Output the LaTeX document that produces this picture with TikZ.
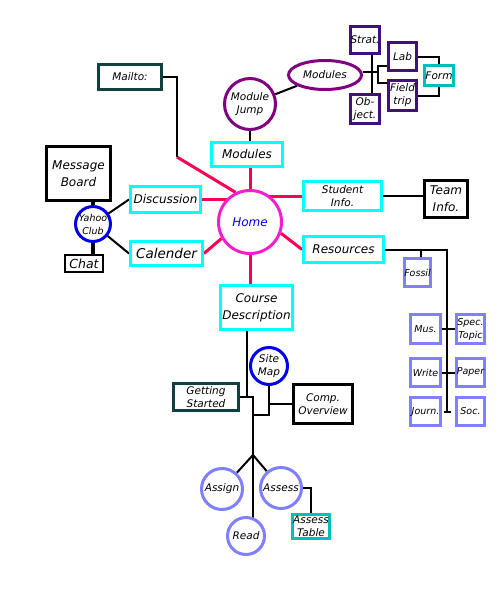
\documentclass[tikz,border=0pt]{standalone}
\usepackage{fontspec}
\setmainfont{DejaVu Sans}
\usetikzlibrary{shapes.geometric,backgrounds}
\definecolor{cy}{RGB}{0,255,255}
\definecolor{pk}{RGB}{245,30,205}
\definecolor{rd}{RGB}{250,0,85}
\definecolor{pu}{RGB}{128,0,128}
\definecolor{ind}{RGB}{64,16,128}
\definecolor{lb}{RGB}{128,128,255}
\definecolor{tl}{RGB}{0,190,190}
\definecolor{dt}{RGB}{16,64,64}
\definecolor{bl}{RGB}{0,0,235}
\tikzset{
  box/.style={draw=#1, rectangle, line width=3pt, fill=white, inner sep=0pt, align=center, font=\itshape\fontsize{10.5}{13}\selectfont},
  circ/.style={draw=#1, circle, line width=3pt, fill=white, inner sep=0pt, align=center, font=\itshape\fontsize{10.5}{13}\selectfont},
  big/.style={font=\itshape\fontsize{12}{17}\selectfont},
  sml/.style={font=\itshape\fontsize{9.5}{13}\selectfont},
  conn/.style={line width=2pt, black},
  rconn/.style={line width=3pt, rd},
  tconn/.style={line width=4pt, black}
}
\begin{document}
\begin{tikzpicture}[x=1pt,y=-1pt]
\useasboundingbox (0,0) rectangle (500,600);
% top modules cluster
\node[box=dt, minimum width=63pt, minimum height=25pt] (mailto) at (130,77) {Mailto:};
\node[circ=pu, minimum size=51pt] (modjump) at (250,104) {Module\\Jump};
\node[draw=pu, ellipse, line width=3pt, fill=white, inner sep=0pt, minimum width=73pt, minimum height=29pt, font=\itshape\fontsize{10.5}{13}\selectfont] (modell) at (325,75) {Modules};
\node[box=ind, minimum width=29pt, minimum height=27pt] (strat) at (365,40) {Strat.};
\node[box=ind, minimum width=29pt, minimum height=29pt] (object) at (365,109) {Ob-\\ject.};
\node[box=ind, minimum width=28pt, minimum height=28pt] (lab) at (402.5,56.5) {Lab};
\node[box=ind, minimum width=28pt, minimum height=30pt] (field) at (402.5,95.5) {Field\\trip};
\node[box=tl, minimum width=29pt, minimum height=20pt] (form) at (439,75.5) {Form};
\node[box=cy, big, minimum width=71pt, minimum height=24pt] (modbox) at (247,154.5) {Modules};
% home
\node[circ=pk, minimum size=63pt, text=bl, font=\itshape\fontsize{12}{14}\selectfont] (home) at (250,222) {Home};
\node[box=cy, minimum width=78pt, minimum height=29pt] (student) at (342.5,196) {Student\\Info.};
\node[box=black, big, minimum width=43pt, minimum height=37pt] (team) at (446,199) {Team\\Info.};
\node[box=cy, big, minimum width=80pt, minimum height=26pt] (resources) at (343.5,249.5) {Resources};
\node[box=cy, big, minimum width=70pt, minimum height=26pt] (discussion) at (165.5,199.5) {Discussion};
\node[box=cy, minimum width=72pt, minimum height=24pt, font=\itshape\fontsize{13.5}{15}\selectfont] (calender) at (166.5,253.5) {Calender};
% left
\node[box=black, big, minimum width=64pt, minimum height=54pt] (msgboard) at (78.5,173.5) {Message\\Board};
\node[circ=bl, minimum size=31pt, sml] (yahoo) at (93,224) {Yahoo\\Club};
\node[box=black, line width=2pt, minimum width=38pt, minimum height=17pt, font=\itshape\fontsize{12.5}{14}\selectfont] (chat) at (84,263.5) {Chat};
% resources
\node[box=lb, sml, minimum width=20pt, minimum height=28pt] (fossil) at (417.5,272.5) {Fossil};
\node[box=lb, sml, minimum width=30pt, minimum height=29pt] (mus) at (425.5,329) {Mus.};
\node[box=lb, sml, minimum width=28pt, minimum height=29pt] (spec) at (470.5,329) {Spec.\\Topic};
\node[box=lb, sml, minimum width=30pt, minimum height=28pt] (write) at (425.5,372.5) {Write};
\node[box=lb, sml, minimum width=28pt, minimum height=28pt] (paper) at (470.5,372.5) {Paper};
\node[box=lb, sml, minimum width=30pt, minimum height=28pt] (journ) at (425.5,411.5) {Journ.};
\node[box=lb, sml, minimum width=28pt, minimum height=28pt] (soc) at (470.5,411.5) {Soc.};
% bottom
\node[box=cy, big, minimum width=72pt, minimum height=44pt] (course) at (256.5,307.5) {Course\\Description};
\node[circ=bl, minimum size=37pt] (sitemap) at (269,366) {Site\\Map};
\node[box=dt, minimum width=65pt, minimum height=27pt] (getting) at (206,397) {Getting\\Started};
\node[box=black, minimum width=59pt, minimum height=39pt] (comp) at (323,404) {Comp.\\Overview};
\node[circ=lb, minimum size=41pt] (assign) at (222,489) {Assign};
\node[circ=lb, minimum size=41pt] (assess) at (281,488) {Assess};
\node[circ=lb, minimum size=37pt] (read) at (246,536) {Read};
\node[box=tl, minimum width=37pt, minimum height=24pt] (atable) at (311,526.5) {Assess\\Table};
% coordinates
\coordinate (m1) at (177,77);
\coordinate (m2) at (177,157);
\coordinate (vx) at (372,0);
\coordinate (br) at (378,72);
\coordinate (rt) at (447,249.5);
\coordinate (rb) at (447,412);
\coordinate (fb) at (421,249.5);
\coordinate (ca) at (247,397);
\coordinate (cb) at (253,397);
\coordinate (cc) at (253,415);
\coordinate (apex) at (253,455);
\begin{scope}[on background layer]
  \fill[white] (0,0) rectangle (500,600);
  % red from home
  \draw[rconn] (home.center) -- (home.center |- modbox.south);
  \draw[rconn] (student.west) -- (student.west -| home.center);
  \draw[rconn] (home.-20) -- (resources.west);
  \draw[rconn] (discussion.east) -- (discussion.east -| home.center);
  \draw[rconn] (home.210) -- (calender.east);
  \draw[rconn] (home.center) -- (home.center |- course.north);
  \draw[rconn] (m2) -- (home.116);
  % black
  \draw[conn] (mailto.east) -- (m1) -- (m2);
  \draw[conn] (modjump) -- (modjump |- modbox.north);
  \draw[conn] (modjump) -- (modell);
  \draw[conn] (strat.south -| vx) -- (object.north -| vx);
  \draw[conn] ([yshift=3pt]modell.east) -- (br);
  \draw[conn] ([yshift=-9.5pt]lab.west) -| (br) |- ([yshift=12.5pt]field.west);
  \draw[conn] (lab.east) -| (form.north);
  \draw[conn] (field.east) -| (form.south);
  \draw[conn] (student.east) -- (student.east -| team.west);
  \draw[conn] (resources.east) -- (rt) -- (rb);
  \draw[conn] ([xshift=-3pt]rb) -- ([xshift=4pt]rb);
  \draw[conn] (fb) -- (fb |- fossil.north);
  \draw[conn] (mus.east) -- (spec.west);
  \draw[conn] (write.east) -- (paper.west);
  \draw[tconn] (yahoo.north |- msgboard.south) -- (yahoo.north);
  \draw[tconn] (yahoo.south) -- (yahoo.south |- chat.north);
  \draw[conn] (yahoo) -- (discussion.west);
  \draw[conn] (yahoo) -- (calender.west);
  \draw[conn] (course.south -| ca) -- (ca);
  \draw[conn] (getting.east) -- (cb) -- (apex);
  \draw[conn] (sitemap.south) |- (cc);
  \draw[conn] (comp.west) -| (sitemap.south);
  \draw[conn] (apex) -- (assign);
  \draw[conn] (apex) -- (assess);
  \draw[conn] (apex) -- (apex |- read.center);
  \draw[conn] (assess.east) -| (atable.north);
\end{scope}
\end{tikzpicture}
\end{document}
